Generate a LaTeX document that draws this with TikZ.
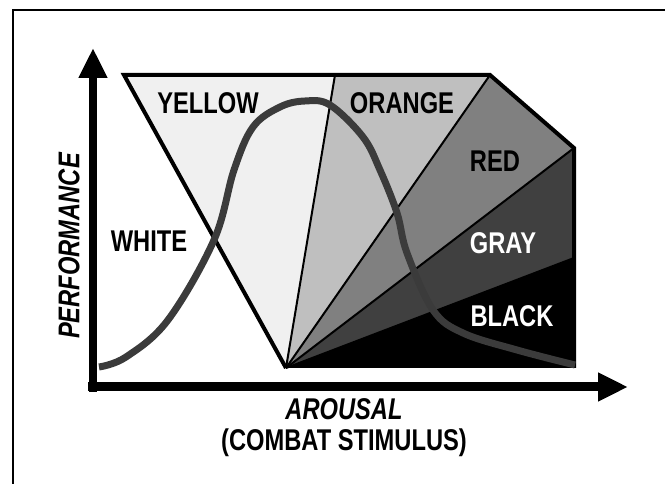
\documentclass[tikz,border=0pt]{standalone}
\usepackage{fontspec}
\setmainfont{Liberation Sans}[FakeStretch=0.79]
\usetikzlibrary{arrows.meta}
\begin{document}
\begin{tikzpicture}[x=1pt,y=1pt,font=\fontsize{30}{34}\selectfont\bfseries,
  axis/.style={-{Triangle[length=30pt,width=27pt]}}]
\useasboundingbox (0,0) rectangle (665,484);
\draw[line width=2pt] (13,0)--(13,474)--(665,474);
% the fan of zones
\coordinate (apex) at (286,116);
\coordinate (tl) at (124,409);\coordinate (yo) at (335,409);\coordinate (tr) at (490,409);
\coordinate (rc) at (574,336);\coordinate (gb) at (574,226);\coordinate (br) at (574,116);
\foreach \a/\b/\c in {tl/yo/black!6,yo/tr/black!25,tr/rc/black!50,rc/gb/black!75,gb/br/black}{\fill[\c] (apex)--(\a)--(\b)--cycle;}
\foreach \a in {yo,tr,rc,gb}{\draw[line width=2pt] (apex)--(\a);}
\draw[line width=4pt,line join=miter] (apex)--(tl)--(tr)--(rc)--(br);
\node (white) at (149,243) {WHITE};
\node (yellow) at (208,381) {YELLOW};
\node (orange) at (402,381) {ORANGE};
\node (red) at (495,323) {RED};
\node[text=white] (gray) at (503,241) {GRAY};
\node[text=white] (black) at (512,168) {BLACK};
% performance curve
\draw[line width=7pt,black!77] plot[smooth,tension=0.6] coordinates {(99,117) (126,127) (168,164) (214,244) (234,314) (253,357) (280,377) (305,383) (330,379) (363,347) (380,314) (397,271) (407,231) (433,174) (463,151) (517,134) (575,119)};
% axes
\draw[axis,line width=8pt] (93,92)--(93,436);
\draw[axis,line width=9pt] (88,97)--(628,97);
\node[rotate=90,font=\fontsize{30}{34}\selectfont\bfseries\itshape] (perf) at (69,238) {PERFORMANCE};
\node[font=\fontsize{30}{34}\selectfont\bfseries\itshape] (arousal) at (344,75) {AROUSAL};
\node (stim) at (344,41) {(COMBAT STIMULUS)};
\end{tikzpicture}
\end{document}
